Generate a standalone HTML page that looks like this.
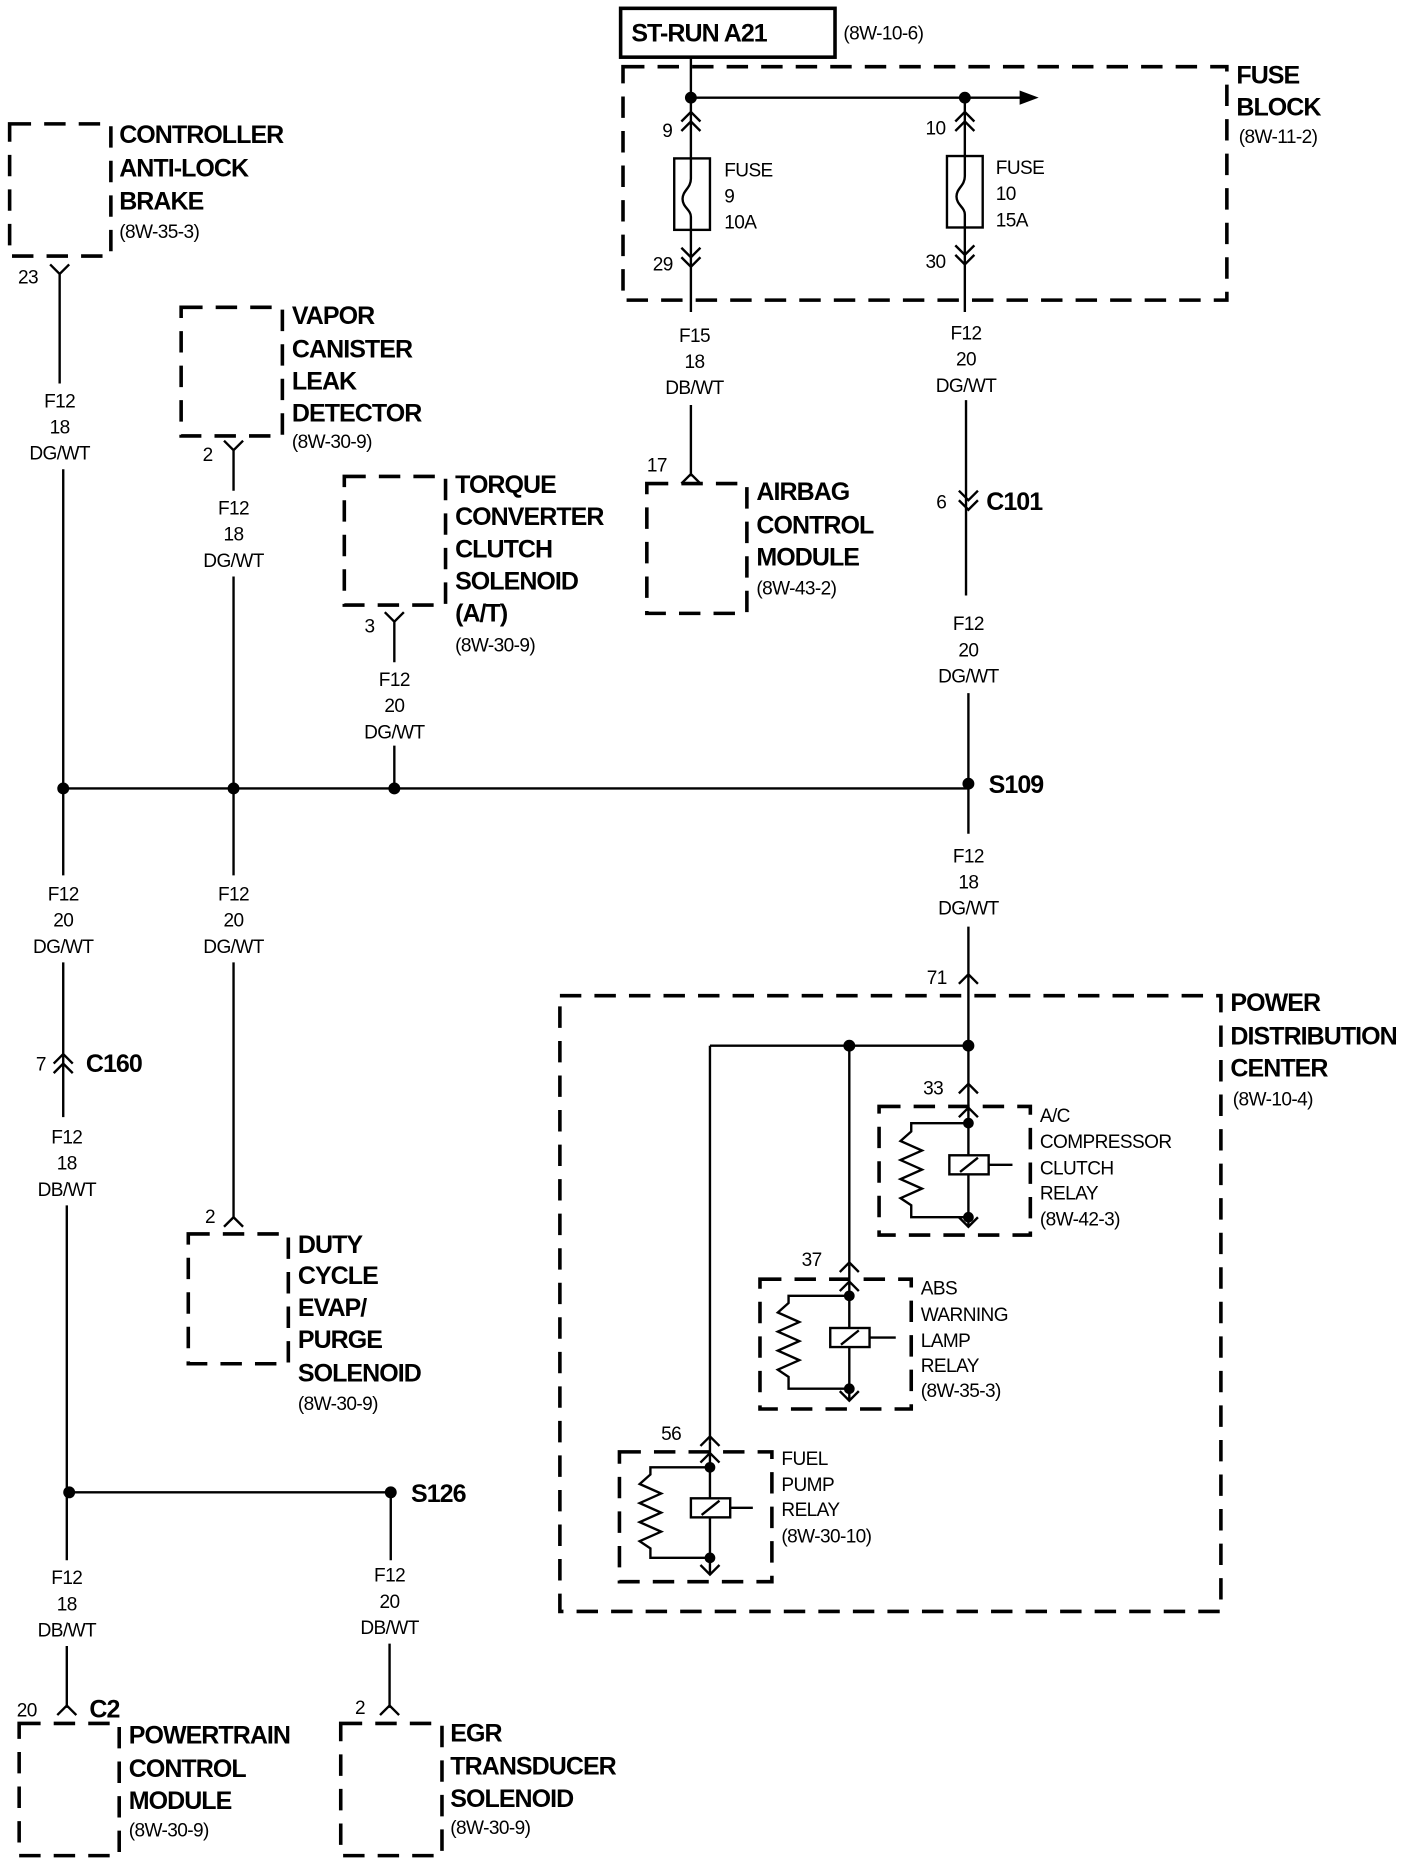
<!DOCTYPE html>
<html><head><meta charset="utf-8"><style>
html,body{margin:0;padding:0;background:#fff;}
svg{display:block;}
.b{font-family:"Liberation Sans",sans-serif;font-weight:bold;font-size:21px;letter-spacing:-0.8px;fill:#000;}
.s{font-family:"Liberation Sans",sans-serif;font-size:16px;letter-spacing:-0.5px;fill:#000;}
.w{font-family:"Liberation Sans",sans-serif;font-size:16px;letter-spacing:-0.5px;fill:#000;text-anchor:middle;}
.d{fill:none;stroke:#000;stroke-width:3;stroke-dasharray:18,11;}
.l{fill:none;stroke:#000;stroke-width:2;}
</style></head><body>
<svg width="1408" height="1858" viewBox="0 0 1182 1560" xmlns="http://www.w3.org/2000/svg">
<rect x="521" y="7" width="180" height="41" fill="none" stroke="#000" stroke-width="3"/>
<text class="b" x="530" y="35" font-size="20">ST-RUN A21</text>
<text class="s" x="708" y="33">(8W-10-6)</text>
<rect class="d" x="523" y="56" width="507" height="196"/>
<text class="b" x="1038" y="70">FUSE</text><text class="b" x="1038" y="97">BLOCK</text><text class="s" x="1040" y="120">(8W-11-2)</text>
<path class="l" d="M580 48V262M580 82H860M810 82V262"/>
<path d="M856 76L872 82L856 88Z"/>
<circle cx="580" cy="82" r="5"/><circle cx="810" cy="82" r="5"/>
<path class="l" d="M572 102L580 94L588 102M572 110L580 102L588 110"/>
<path class="l" d="M802 102L810 94L818 102M802 110L810 102L818 110"/>
<rect x="566" y="133" width="30" height="60" fill="#fff" stroke="#000" stroke-width="2"/>
<path class="l" d="M580 133V150C580 158 573 160 573 167C573 174 580 176 580 182V193"/>
<rect x="795" y="131" width="30" height="60" fill="#fff" stroke="#000" stroke-width="2"/>
<path class="l" d="M810 131V148C810 156 803 158 803 165C803 172 810 174 810 180V191"/>
<path class="l" d="M572 208L580 216L588 208M572 216L580 224L588 216"/>
<path class="l" d="M802 206L810 214L818 206M802 214L810 222L818 214"/>
<text class="s" x="556" y="115">9</text><text class="s" x="548" y="227">29</text>
<text class="s" x="777" y="113">10</text><text class="s" x="777" y="225">30</text>
<text class="s" x="608" y="148">FUSE</text><text class="s" x="608" y="170">9</text><text class="s" x="608" y="192">10A</text>
<text class="s" x="836" y="146">FUSE</text><text class="s" x="836" y="168">10</text><text class="s" x="836" y="190">15A</text>
<text class="w" x="583" y="287">F15</text><text class="w" x="583" y="309">18</text><text class="w" x="583" y="331">DB/WT</text>
<text class="w" x="811" y="285">F12</text><text class="w" x="811" y="307">20</text><text class="w" x="811" y="329">DG/WT</text>
<path class="l" d="M580 340V400M572 406L580 398L588 406"/>
<text class="s" x="543" y="396">17</text>
<rect class="d" x="543" y="406" width="84" height="109"/>
<text class="b" x="635" y="420">AIRBAG</text><text class="b" x="635" y="448">CONTROL</text><text class="b" x="635" y="475">MODULE</text><text class="s" x="635" y="499">(8W-43-2)</text>
<path class="l" d="M811 336V500M805 412L813 420L821 412M805 420L813 428L821 420"/>
<text class="s" x="786" y="427">6</text><text class="b" x="828" y="428" font-size="20">C101</text>
<text class="w" x="813" y="529">F12</text><text class="w" x="813" y="551">20</text><text class="w" x="813" y="573">DG/WT</text>
<path class="l" d="M813 582V700"/>
<path class="l" d="M53 662H813"/>
<circle cx="53" cy="662" r="5"/><circle cx="196" cy="662" r="5"/><circle cx="331" cy="662" r="5"/><circle cx="813" cy="658" r="5"/>
<text class="b" x="830" y="666" font-size="20">S109</text>
<text class="w" x="813" y="724">F12</text><text class="w" x="813" y="746">18</text><text class="w" x="813" y="768">DG/WT</text>
<path class="l" d="M813 778V912M805 826L813 818L821 826"/>
<text class="s" x="778" y="826">71</text>
<rect class="d" x="470" y="836" width="555" height="517"/>
<text class="b" x="1033" y="849">POWER</text><text class="b" x="1033" y="877">DISTRIBUTION</text><text class="b" x="1033" y="904">CENTER</text><text class="s" x="1035" y="928">(8W-10-4)</text>
<path class="l" d="M596 878H813M713 878V1062M596 878V1210"/>
<circle cx="713" cy="878" r="5"/><circle cx="813" cy="878" r="5"/>
<path class="l" d="M805 918L813 910L821 918M805 938L813 930L821 938M813 912V1030M805 1022L813 1030L821 1022"/>
<text class="s" x="775" y="919">33</text>
<rect class="d" x="738" y="929" width="127" height="108"/>
<path class="l" d="M813 943H765V950L756 958L774 966L756 974L774 982L756 990L774 998L756 1006L765 1012V1022H813M830 978H850"/>
<circle cx="813" cy="943" r="4.5"/><circle cx="813" cy="1022" r="4.5"/>
<rect x="797" y="970" width="33" height="16" fill="#fff" stroke="#000" stroke-width="2"/><path class="l" d="M806 984L821 972"/>
<text class="s" x="873" y="942">A/C</text><text class="s" x="873" y="964">COMPRESSOR</text><text class="s" x="873" y="986">CLUTCH</text><text class="s" x="873" y="1007">RELAY</text><text class="s" x="873" y="1029">(8W-42-3)</text>
<path class="l" d="M705 1068L713 1060L721 1068M705 1084L713 1076L721 1084M713 1062V1176M705 1168L713 1176L721 1168"/>
<text class="s" x="673" y="1063">37</text>
<rect class="d" x="638" y="1074" width="127" height="109"/>
<path class="l" d="M713 1088H662V1094L653 1102L671 1110L653 1118L671 1126L653 1134L671 1142L653 1150L662 1156V1166H713M730 1123H752"/>
<circle cx="713" cy="1088" r="4.5"/><circle cx="713" cy="1166" r="4.5"/>
<rect x="697" y="1115" width="33" height="16" fill="#fff" stroke="#000" stroke-width="2"/><path class="l" d="M706 1129L721 1117"/>
<text class="s" x="773" y="1087">ABS</text><text class="s" x="773" y="1109">WARNING</text><text class="s" x="773" y="1131">LAMP</text><text class="s" x="773" y="1152">RELAY</text><text class="s" x="773" y="1173">(8W-35-3)</text>
<path class="l" d="M588 1214L596 1206L604 1214M588 1228L596 1220L604 1228M596 1210V1322M588 1314L596 1322L604 1314"/>
<text class="s" x="555" y="1209">56</text>
<rect class="d" x="520" y="1219" width="128" height="109"/>
<path class="l" d="M596 1232H546V1238L537 1246L555 1254L537 1262L555 1270L537 1278L555 1286L537 1294L546 1300V1308H596M613 1266H632"/>
<circle cx="596" cy="1232" r="4.5"/><circle cx="596" cy="1308" r="4.5"/>
<rect x="580" y="1258" width="33" height="16" fill="#fff" stroke="#000" stroke-width="2"/><path class="l" d="M589 1272L604 1260"/>
<text class="s" x="656" y="1230">FUEL</text><text class="s" x="656" y="1252">PUMP</text><text class="s" x="656" y="1273">RELAY</text><text class="s" x="656" y="1295">(8W-30-10)</text>
<rect class="d" x="8" y="104" width="85" height="111"/>
<text class="b" x="100" y="120">CONTROLLER</text><text class="b" x="100" y="148">ANTI-LOCK</text><text class="b" x="100" y="176">BRAKE</text><text class="s" x="100" y="200">(8W-35-3)</text>
<path class="l" d="M42 222L50 230L58 222M50 230V322"/>
<text class="s" x="15" y="238">23</text>
<text class="w" x="50" y="342">F12</text><text class="w" x="50" y="364">18</text><text class="w" x="50" y="386">DG/WT</text>
<path class="l" d="M53 394V735"/>
<rect class="d" x="152" y="258" width="85" height="108"/>
<text class="b" x="245" y="272">VAPOR</text><text class="b" x="245" y="300">CANISTER</text><text class="b" x="245" y="327">LEAK</text><text class="b" x="245" y="354">DETECTOR</text><text class="s" x="245" y="376">(8W-30-9)</text>
<path class="l" d="M188 370L196 378L204 370M196 378V412"/>
<text class="s" x="170" y="387">2</text>
<text class="w" x="196" y="432">F12</text><text class="w" x="196" y="454">18</text><text class="w" x="196" y="476">DG/WT</text>
<path class="l" d="M196 484V735"/>
<rect class="d" x="289" y="400" width="85" height="108"/>
<text class="b" x="382" y="414">TORQUE</text><text class="b" x="382" y="441">CONVERTER</text><text class="b" x="382" y="468">CLUTCH</text><text class="b" x="382" y="495">SOLENOID</text><text class="b" x="382" y="522">(A/T)</text><text class="s" x="382" y="547">(8W-30-9)</text>
<path class="l" d="M323 514L331 522L339 514M331 522V556M331 626V662"/>
<text class="s" x="306" y="531">3</text>
<text class="w" x="331" y="576">F12</text><text class="w" x="331" y="598">20</text><text class="w" x="331" y="620">DG/WT</text>
<text class="w" x="53" y="756">F12</text><text class="w" x="53" y="778">20</text><text class="w" x="53" y="800">DG/WT</text>
<text class="w" x="196" y="756">F12</text><text class="w" x="196" y="778">20</text><text class="w" x="196" y="800">DG/WT</text>
<path class="l" d="M53 808V938M196 808V1022"/>
<path class="l" d="M45 893L53 885L61 893M45 901L53 893L61 901"/>
<text class="s" x="30" y="899">7</text><text class="b" x="72" y="900" font-size="20">C160</text>
<text class="w" x="56" y="960">F12</text><text class="w" x="56" y="982">18</text><text class="w" x="56" y="1004">DB/WT</text>
<path class="l" d="M56 1012V1310"/>
<path class="l" d="M188 1030L196 1022L204 1030"/>
<text class="s" x="172" y="1027">2</text>
<rect class="d" x="158" y="1036" width="84" height="109"/>
<text class="b" x="250" y="1052">DUTY</text><text class="b" x="250" y="1078">CYCLE</text><text class="b" x="250" y="1105">EVAP/</text><text class="b" x="250" y="1132">PURGE</text><text class="b" x="250" y="1160">SOLENOID</text><text class="s" x="250" y="1184">(8W-30-9)</text>
<path class="l" d="M58 1253H328M328 1253V1310"/>
<circle cx="58" cy="1253" r="5"/><circle cx="328" cy="1253" r="5"/>
<text class="b" x="345" y="1261" font-size="20">S126</text>
<text class="w" x="56" y="1330">F12</text><text class="w" x="56" y="1352">18</text><text class="w" x="56" y="1374">DB/WT</text>
<text class="w" x="327" y="1328">F12</text><text class="w" x="327" y="1350">20</text><text class="w" x="327" y="1372">DB/WT</text>
<path class="l" d="M56 1382V1434M327 1380V1434"/>
<path class="l" d="M48 1440L56 1432L64 1440M319 1440L327 1432L335 1440"/>
<text class="s" x="14" y="1441">20</text><text class="b" x="75" y="1442" font-size="20">C2</text>
<text class="s" x="298" y="1439">2</text>
<rect class="d" x="16" y="1447" width="84" height="111"/>
<text class="b" x="108" y="1464">POWERTRAIN</text><text class="b" x="108" y="1492">CONTROL</text><text class="b" x="108" y="1519">MODULE</text><text class="s" x="108" y="1542">(8W-30-9)</text>
<rect class="d" x="286" y="1447" width="85" height="111"/>
<text class="b" x="378" y="1462">EGR</text><text class="b" x="378" y="1490">TRANSDUCER</text><text class="b" x="378" y="1517">SOLENOID</text><text class="s" x="378" y="1540">(8W-30-9)</text>
</svg>
</body></html>
